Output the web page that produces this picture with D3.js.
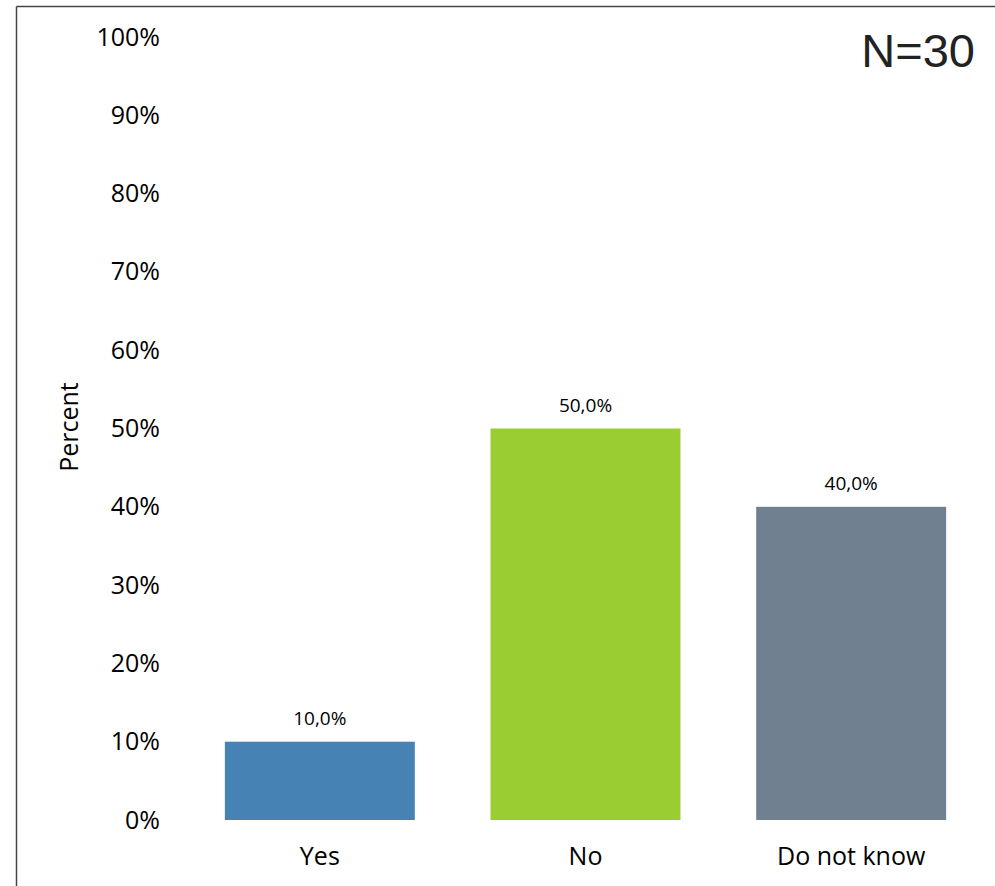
<!DOCTYPE html>
<html>
<head>
<meta charset="utf-8">
<script src="https://cdn.jsdelivr.net/npm/d3@7"></script>
<style>
  html, body { margin: 0; padding: 0; background: #ffffff; }
  svg { display: block; }
</style>
</head>
<body>
<svg id="chart" width="995" height="886"></svg>
<script>
// Survey responses (percent of respondents)
const categories = ["Yes", "No", "Do not know"];
const values = [10.0, 50.0, 40.0];
const barColors = ["#4682B4", "#9ACD32", "#708090"];
const yTicks = [0, 10, 20, 30, 40, 50, 60, 70, 80, 90, 100];
const sampleLabel = "N=30";
const yTitle = "Percent";

const svg = d3.select("#chart");
const W = 995, H = 886;

// Frame (top and left edges)
svg.append("line").attr("x1", 16.5).attr("y1", 6.5).attr("x2", W).attr("y2", 6.5)
  .attr("stroke", "#444").attr("stroke-width", 1.5);
svg.append("line").attr("x1", 16.5).attr("y1", 6.5).attr("x2", 16.5).attr("y2", H)
  .attr("stroke", "#444").attr("stroke-width", 1.5);

const plot = { left: 187, right: 984, top: 37, bottom: 820 };

const x = d3.scaleBand()
  .domain(categories)
  .range([plot.left, plot.right])
  .paddingInner(0.285)
  .paddingOuter(0.1425);

const y = d3.scaleLinear()
  .domain([0, 100])
  .range([plot.bottom, plot.top]);

const font = "'Open Sans', sans-serif";

// Y axis labels only (no line, no ticks)
const yAxis = d3.axisLeft(y)
  .tickValues(yTicks)
  .tickFormat(d => d + "%")
  .tickSize(0)
  .tickPadding(0);
const yg = svg.append("g").attr("transform", "translate(160,0)").call(yAxis);
yg.select(".domain").remove();
yg.selectAll("text")
  .attr("font-family", font)
  .attr("font-size", 25)
  .attr("fill", "#000");

// Y axis title
svg.append("text")
  .attr("transform", "translate(68,427) rotate(-90)")
  .attr("text-anchor", "middle")
  .attr("dominant-baseline", "central")
  .attr("font-family", font)
  .attr("font-size", 25)
  .attr("fill", "#000")
  .text(yTitle);

// Bars
const data = categories.map((c, i) => ({ c, v: values[i], color: barColors[i] }));
svg.append("g").selectAll("rect")
  .data(data)
  .join("rect")
  .attr("x", d => x(d.c))
  .attr("width", x.bandwidth())
  .attr("y", d => y(d.v))
  .attr("height", d => y(0) - y(d.v))
  .attr("fill", d => d.color);

// Value labels
const fmt = v => v.toFixed(1).replace(".", ",") + "%";
svg.append("g").selectAll("text")
  .data(data)
  .join("text")
  .attr("x", d => x(d.c) + x.bandwidth() / 2)
  .attr("y", d => y(d.v) - 17)
  .attr("text-anchor", "middle")
  .attr("font-family", font)
  .attr("font-size", 19)
  .attr("fill", "#000")
  .text(d => fmt(d.v));

// X axis category labels
const xAxis = d3.axisBottom(x).tickSize(0).tickPadding(0);
const xg = svg.append("g").attr("transform", "translate(0,865)").call(xAxis);
xg.select(".domain").remove();
xg.selectAll("text")
  .attr("dy", 0)
  .attr("font-family", font)
  .attr("font-size", 25)
  .attr("fill", "#000");

// Sample size
svg.append("text")
  .attr("x", 975)
  .attr("y", 67)
  .attr("text-anchor", "end")
  .attr("font-family", "'Liberation Sans', Arial, sans-serif")
  .attr("font-size", 47)
  .attr("fill", "#222")
  .text(sampleLabel);
</script>
</body>
</html>
